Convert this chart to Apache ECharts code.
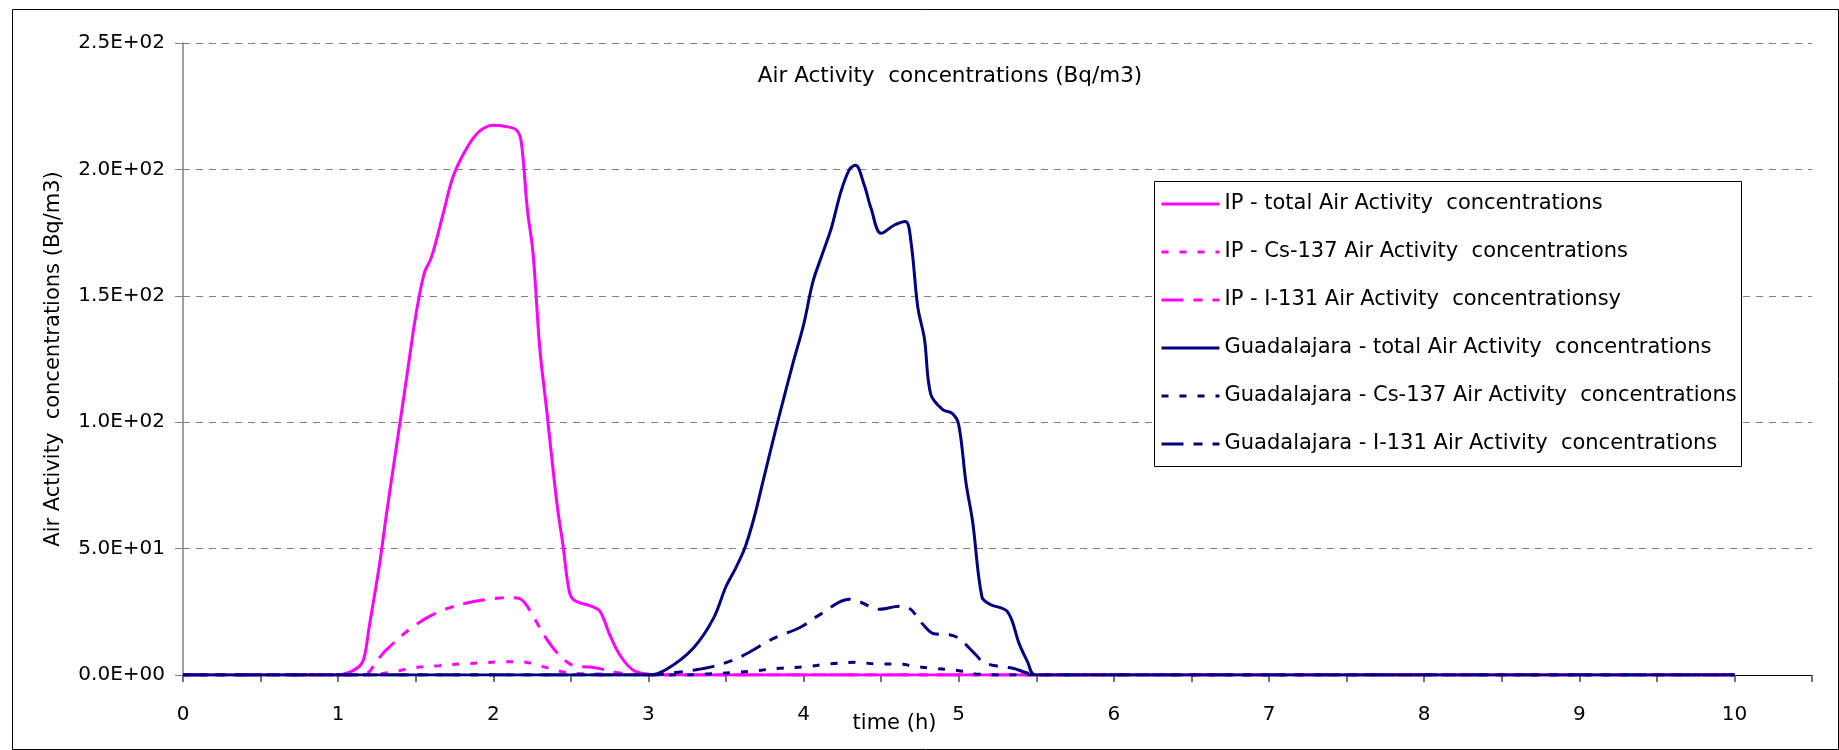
<!DOCTYPE html>
<html>
<head>
<meta charset="utf-8">
<script src="https://cdn.jsdelivr.net/npm/echarts@6/dist/echarts.min.js"></script>
<style>
html,body{margin:0;padding:0;background:#fff;}
#chart{width:1839px;height:750px;}
</style>
</head>
<body>
<div id="chart"></div>
<script>
// ---- Data (time in hours, concentrations in Bq/m3) ----
const seriesNames = [
  'IP - total Air Activity  concentrations',
  'IP - Cs-137 Air Activity  concentrations',
  'IP - I-131 Air Activity  concentrationsy',
  'Guadalajara - total Air Activity  concentrations',
  'Guadalajara - Cs-137 Air Activity  concentrations',
  'Guadalajara - I-131 Air Activity  concentrations'
];

const ipTotalTime = [0, 1.0, 1.07, 1.14, 1.17, 1.2, 1.265, 1.31, 1.37, 1.44, 1.5, 1.555, 1.6, 1.675, 1.74, 1.825, 1.91, 2.0, 2.08, 2.15, 2.18, 2.22, 2.256, 2.3, 2.34, 2.41, 2.45, 2.49, 2.525, 2.64, 2.69, 2.75, 2.82, 2.9, 3.0, 3.1, 10];
const ipTotalVal  = [0, 0, 1, 3.6, 7.5, 19, 43, 63, 88, 117, 142, 159, 165, 182, 197, 208, 215, 217.5, 217, 215.5, 211, 184, 167, 129, 107, 68, 51, 33, 29.5, 27, 25, 16, 7.5, 2, 0.3, 0, 0];

const ipCsTime = [0, 1.2, 1.28, 1.36, 1.5, 1.65, 1.8, 1.95, 2.07, 2.17, 2.25, 2.34, 2.45, 2.55, 2.75, 2.9, 10];
const ipCsVal  = [0, 0, 0.5, 1.3, 2.9, 3.7, 4.4, 4.9, 5.2, 5.2, 4.6, 3.0, 1.2, 0.6, 0.3, 0, 0];

const ipITime = [0, 1.157, 1.265, 1.31, 1.48, 1.65, 1.83, 2.0, 2.1, 2.17, 2.21, 2.26, 2.34, 2.43, 2.5, 2.54, 2.62, 2.71, 2.8, 2.9, 3.0, 10];
const ipIVal  = [0, 0, 6.8, 9.9, 19, 25, 28.5, 30.2, 30.6, 30.2, 28, 23, 14.6, 7.5, 4.2, 3.3, 3.2, 2.2, 0.9, 0.3, 0, 0];

const gdlTotalTime = [0, 3.0, 3.12, 3.29, 3.42, 3.5, 3.56, 3.62, 3.68, 3.74, 3.8, 3.845, 3.93, 4.0, 4.06, 4.124, 4.18, 4.24, 4.296, 4.335, 4.39, 4.435, 4.5, 4.586, 4.657, 4.693, 4.736, 4.779, 4.82, 4.897, 4.96, 5.0, 5.047, 5.09, 5.15, 5.2, 5.315, 5.39, 5.444, 5.494, 10];
const gdlTotalVal  = [0, 0, 2.4, 10.7, 22.5, 35, 42, 50, 62, 77, 92, 103, 123, 138.5, 155.5, 167, 177, 191, 200, 201.6, 194, 184.6, 174.7, 178, 179.4, 171, 145.6, 133, 111, 105, 103.4, 99, 76, 60.5, 30.8, 28, 25, 12.3, 5.2, 0, 0];

const gdlCsTime = [0, 3.2, 3.38, 3.55, 3.68, 3.845, 4.0, 4.17, 4.33, 4.47, 4.64, 4.7, 4.83, 5.0, 5.13, 5.35, 10];
const gdlCsVal  = [0, 0, 0.4, 1, 1.6, 2.7, 3.2, 4.4, 5, 4.4, 4.3, 3.5, 2.7, 1.7, 0.3, 0, 0];

const gdlITime = [0, 3.0, 3.15, 3.3, 3.42, 3.55, 3.65, 3.76, 3.845, 3.974, 4.1, 4.296, 4.36, 4.49, 4.618, 4.68, 4.77, 4.84, 4.94, 5.0, 5.11, 5.16, 5.26, 5.35, 5.43, 5.5, 10];
const gdlIVal  = [0, 0, 0.8, 2, 3.4, 6, 9, 13, 15.5, 18.7, 23.7, 30, 29, 26, 27.2, 26.5, 20, 16.3, 15.9, 14.5, 8, 5, 3.4, 2.7, 1, 0, 0];

const yTickLabels = ['0.0E+00', '5.0E+01', '1.0E+02', '1.5E+02', '2.0E+02', '2.5E+02'];
const xTickLabels = ['0', '1', '2', '3', '4', '5', '6', '7', '8', '9', '10'];

const titleText = 'Air Activity  concentrations (Bq/m3)';
const xAxisName = 'time (h)';
const yAxisName = 'Air Activity  concentrations (Bq/m3)';

// ---- Build ----
const pair = (t, v) => t.map((x, i) => [x, v[i]]);
const MAGENTA = '#FF00FF', NAVY = '#000080';
const FONT = 'DejaVu Sans';
const DASH_CS = [7, 11];
const DASH_I = [22, 10, 9, 10];

function mk(name, data, color, type) {
  return {
    name, type: 'line', data, showSymbol: false, symbol: 'none',
    smooth: 0.35,
    lineStyle: { color, width: 3, type },
    itemStyle: { color },
    animation: false
  };
}

const chart = echarts.init(document.getElementById('chart'), null, { renderer: 'canvas' });
chart.setOption({
  backgroundColor: '#fff',
  animation: false,
  title: {
    text: titleText, left: 945, top: 60, textAlign: 'center',
    textStyle: { fontFamily: FONT, fontSize: 21.5, fontWeight: 'normal', color: '#000' }
  },
  grid: { left: 183, right: 27, top: 43, bottom: 75, containLabel: false, outerBoundsMode: 'none' },
  legend: {
    orient: 'vertical', left: 1160, top: 192, padding: 0, z: 6,
    itemWidth: 58, itemHeight: 14, itemGap: 24,
    itemStyle: { opacity: 0 },
    lineStyle: { width: 3 },
    textStyle: { fontFamily: FONT, fontSize: 21, color: '#000', lineHeight: 24 },
    data: seriesNames
  },
  xAxis: {
    type: 'value', min: 0, max: 10.5, interval: 0.5,
    name: xAxisName, nameLocation: 'middle', nameGap: 38, nameMoveOverlap: false,
    nameTextStyle: { fontFamily: FONT, fontSize: 21, color: '#000', padding: [0, 206, 0, 0] },
    axisLine: { show: true, onZero: false, lineStyle: { color: '#000', width: 1 } },
    axisTick: { show: true, length: 7, lineStyle: { color: '#444', width: 1.5 } },
    axisLabel: {
      margin: 30, fontFamily: FONT, fontSize: 20, color: '#000',
      formatter: v => (Number.isInteger(v) && v <= 10) ? xTickLabels[v] : ''
    },
    splitLine: { show: false }
  },
  yAxis: {
    type: 'value', min: 0, max: 250, interval: 50,
    name: yAxisName, nameLocation: 'middle', nameGap: 119, nameRotate: 90, nameMoveOverlap: false,
    nameTextStyle: { fontFamily: FONT, fontSize: 21, color: '#000' },
    axisLine: { show: true, lineStyle: { color: '#808080', width: 1.5 } },
    axisTick: { show: true, length: 8, lineStyle: { color: '#808080', width: 1 } },
    axisLabel: {
      margin: 18, fontFamily: FONT, fontSize: 20, color: '#000',
      formatter: v => yTickLabels[Math.round(v / 50)]
    },
    splitLine: { show: true, lineStyle: { color: '#808080', width: 1, type: [7, 6] } }
  },
  graphic: [
    { type: 'rect', left: 10, top: 7, shape: { width: 1826, height: 740 },
      style: { fill: 'none', stroke: '#000', lineWidth: 1 }, z: -1, silent: true },
    { type: 'rect', left: 1154, top: 181, shape: { width: 587, height: 285 },
      style: { fill: '#fff', stroke: '#000', lineWidth: 1 }, z: 3, silent: true }
  ],
  series: [
    mk(seriesNames[0], pair(ipTotalTime, ipTotalVal), MAGENTA, 'solid'),
    mk(seriesNames[1], pair(ipCsTime, ipCsVal), MAGENTA, DASH_CS),
    mk(seriesNames[2], pair(ipITime, ipIVal), MAGENTA, DASH_I),
    mk(seriesNames[3], pair(gdlTotalTime, gdlTotalVal), NAVY, 'solid'),
    mk(seriesNames[4], pair(gdlCsTime, gdlCsVal), NAVY, DASH_CS),
    mk(seriesNames[5], pair(gdlITime, gdlIVal), NAVY, DASH_I)
  ]
});
</script>
</body>
</html>
